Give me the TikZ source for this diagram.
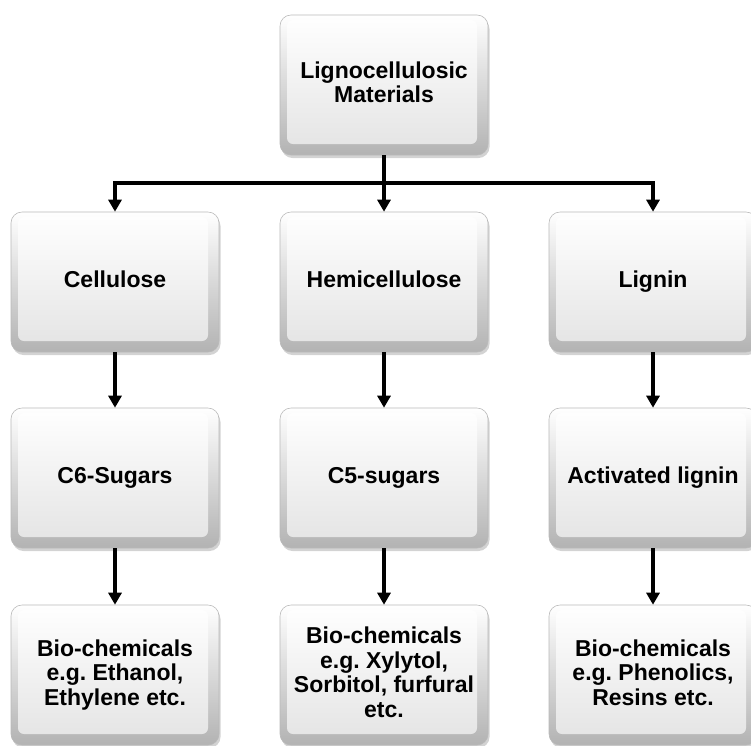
\documentclass[tikz,border=0pt]{standalone}
\usepackage{fontspec}
\setmainfont{Liberation Sans}
\usetikzlibrary{arrows.meta,shadows,calc}
\newcommand\bxstrut{\rule[-5.5pt]{0pt}{19.5pt}}
\tikzset{
  box/.style={rounded corners=11pt, minimum width=208pt, minimum height=140pt,
    top color=white, bottom color=gray!60, draw=gray!55, line width=0.6pt,
    drop shadow={shadow xshift=1.5pt, shadow yshift=-3pt, opacity=0.35, fill=gray},
    align=center, inner sep=2pt,
    font=\fontsize{23}{24.5}\selectfont\bfseries\frenchspacing,
    path picture={\shade[top color=white, bottom color=gray!22, rounded corners=6pt]
      ([shift={(7pt,-5pt)}]path picture bounding box.north west) rectangle
      ([shift={(-11pt,11pt)}]path picture bounding box.south east);}},
  conn/.style={line width=3.8pt, black},
  arr/.style={conn, -{Triangle[width=13pt,length=12pt]}}
}
\begin{document}
\begin{tikzpicture}[x=1pt,y=-1pt]
\useasboundingbox (0,0) rectangle (751,745);
\node[box] (top) at (384,85) {\bxstrut Lignocellulosic\\\bxstrut Materials};
\node[box] (c1) at (115,282) {\bxstrut Cellulose};
\node[box] (c2) at (384,282) {\bxstrut Hemicellulose};
\node[box] (c3) at (653,282) {\bxstrut Lignin};
\node[box] (s1) at (115,478) {\bxstrut C6-Sugars};
\node[box] (s2) at (384,478) {\bxstrut C5-sugars};
\node[box] (s3) at (653,478) {\bxstrut Activated lignin};
\node[box] (b1) at (115,675) {\bxstrut Bio-chemicals\\\bxstrut e.g. Ethanol,\\\bxstrut Ethylene etc.};
\node[box] (b2) at (384,675) {\bxstrut Bio-chemicals\\\bxstrut e.g. Xylytol,\\\bxstrut Sorbitol, furfural\\\bxstrut etc.};
\node[box] (b3) at (653,675) {\bxstrut Bio-chemicals\\\bxstrut e.g. Phenolics,\\\bxstrut Resins etc.};
\coordinate (j) at (384,183);
\draw[conn] (top.south) -- (j);
\draw[arr] (j) -| (c1.north);
\draw[arr] (j) -| (c3.north);
\draw[arr] (j) -- (c2.north);
\foreach \a/\b in {c1/s1,c2/s2,c3/s3,s1/b1,s2/b2,s3/b3}
  \draw[arr] (\a.south) -- (\b.north);
\end{tikzpicture}
\end{document}
